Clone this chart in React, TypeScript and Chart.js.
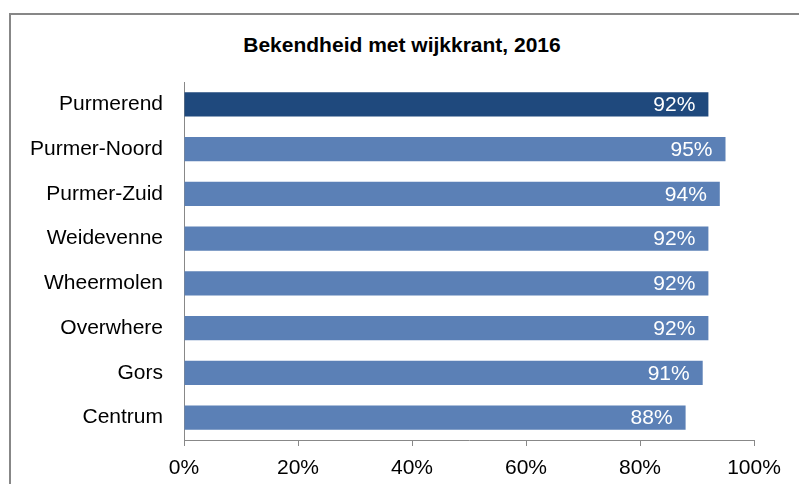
import React, { useEffect, useRef } from "react";
import { Chart, registerables } from "chart.js";

Chart.register(...registerables);

const categories = ["Purmerend", "Purmer-Noord", "Purmer-Zuid", "Weidevenne", "Wheermolen", "Overwhere", "Gors", "Centrum"];
const values = [92, 95, 94, 92, 92, 92, 91, 88];
const barColors = ["#1F497D", "#5B80B6", "#5B80B6", "#5B80B6", "#5B80B6", "#5B80B6", "#5B80B6", "#5B80B6"];
const xTicks = [0, 20, 40, 60, 80, 100];
const title = "Bekendheid met wijkkrant, 2016";

const FONT = '"Liberation Sans", Arial, sans-serif';

const valueLabels = {
  id: "valueLabels",
  afterDatasetsDraw(chart: any) {
    const ctx = chart.ctx;
    const meta = chart.getDatasetMeta(0);
    ctx.save();
    ctx.fillStyle = "#FFFFFF";
    ctx.font = `21px ${FONT}`;
    ctx.textAlign = "right";
    ctx.textBaseline = "middle";
    meta.data.forEach((bar: any, i: number) => {
      ctx.fillText(`${values[i]}%`, bar.x - 13, bar.y + 1);
    });
    ctx.restore();
  },
};

export default function App() {
  const ref = useRef<HTMLCanvasElement | null>(null);
  useEffect(() => {
    if (!ref.current) return;
    const chart = new Chart(ref.current, {
      type: "bar",
      data: {
        labels: categories,
        datasets: [
          {
            data: values,
            backgroundColor: barColors,
            borderWidth: 0,
            categoryPercentage: 1,
            barPercentage: 0.54,
          },
        ],
      },
      options: {
        indexAxis: "y",
        animation: false,
        responsive: false,
        layout: { padding: { top: 82, right: 45, bottom: 0, left: 0 } },
        plugins: { legend: { display: false }, tooltip: { enabled: false }, title: { display: false } },
        scales: {
          x: {
            min: 0,
            max: 100,
            afterBuildTicks: (axis: any) => {
              axis.ticks = xTicks.map((v) => ({ value: v }));
            },
            afterFit: (axis: any) => {
              axis.height = 44;
            },
            grid: { display: true, drawOnChartArea: false, drawTicks: true, tickLength: 6, color: "#888888" },
            border: { display: true, color: "#888888", width: 1 },
            ticks: {
              padding: 10,
              color: "#000000",
              font: { family: FONT, size: 21 },
              callback: (v: any) => `${v}%`,
            },
          },
          y: {
            afterFit: (axis: any) => {
              axis.width = 184;
            },
            grid: { display: true, drawOnChartArea: false, drawTicks: false, tickLength: 0, color: "#888888" },
            border: { display: true, color: "#888888", width: 1 },
            ticks: {
              padding: 21,
              color: "#000000",
              font: { family: FONT, size: 21 },
            },
          },
        },
      },
      plugins: [valueLabels],
    });
    return () => chart.destroy();
  }, []);

  return (
    <div style={{ position: "fixed", left: 0, top: 0, width: 799, height: 484, background: "#FFFFFF", overflow: "hidden" }}>
      <div
        style={{
          position: "absolute",
          left: 9,
          top: 13,
          width: 820,
          height: 500,
          border: "2px solid #878787",
          boxSizing: "border-box",
        }}
      />
      <div
        style={{
          position: "absolute",
          left: 0,
          width: 804,
          top: 31,
          textAlign: "center",
          fontFamily: FONT,
          fontWeight: "bold",
          fontSize: 21,
          lineHeight: "28px",
          color: "#000000",
        }}
      >
        {title}
      </div>
      <canvas ref={ref} width={799} height={484} style={{ position: "absolute", left: 0, top: 0 }} />
    </div>
  );
}
